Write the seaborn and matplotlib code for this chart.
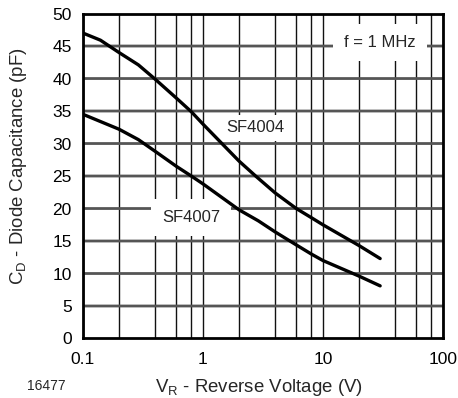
import numpy as np
import pandas as pd
import seaborn as sns
import matplotlib.pyplot as plt
from matplotlib.ticker import LogLocator, FixedLocator, NullFormatter

# Curve data
v_sf4004 = [0.1, 0.14, 0.2, 0.29, 0.4, 0.6, 0.8, 1, 1.44, 2, 2.75, 4, 6, 8, 10, 20, 30]
c_sf4004 = [47, 45.9, 44, 42.1, 39.9, 37.0, 34.9, 33.0, 30.0, 27.3, 25, 22.4, 20.0, 18.6, 17.5, 14.3, 12.3]
v_sf4007 = [0.1, 0.2, 0.29, 0.4, 0.6, 0.8, 1, 2, 2.9, 4, 6, 8, 10, 20, 30]
c_sf4007 = [34.5, 32.2, 30.6, 28.8, 26.5, 25.0, 23.8, 19.8, 18.1, 16.4, 14.4, 13.0, 12.0, 9.6, 8.1]

x_ticks = [0.1, 1, 10, 100]
x_tick_labels = ["0.1", "1", "10", "100"]
y_ticks = list(range(0, 55, 5))

df = pd.concat([
    pd.DataFrame({"V": v_sf4004, "C": c_sf4004, "device": "SF4004"}),
    pd.DataFrame({"V": v_sf4007, "C": c_sf4007, "device": "SF4007"}),
])

sns.set_style("white")
plt.rcParams["font.family"] = ["Liberation Sans", "DejaVu Sans"]

fig = plt.figure(figsize=(4.58, 3.98), dpi=100)
ax = fig.add_axes([0.181, 0.1495, 0.786, 0.8165])

sns.lineplot(data=df, x="V", y="C", hue="device", palette=["black", "black"],
             linewidth=2.4, legend=False, ax=ax, sort=True, zorder=3)
for ln in ax.lines:
    ln.set_solid_joinstyle("round")
    ln.set_solid_capstyle("round")

ax.set_xscale("log")
ax.set_xlim(0.1, 100)
ax.set_ylim(0, 50)
ax.xaxis.set_major_locator(FixedLocator(x_ticks))
ax.set_xticklabels(x_tick_labels)
ax.xaxis.set_minor_locator(LogLocator(base=10, subs=[2, 4, 6, 8]))
ax.xaxis.set_minor_formatter(NullFormatter())
ax.set_yticks(y_ticks)

# grid: black verticals on the log decades, grey horizontals on the y ticks
ax.xaxis.grid(True, which="both", color="#111111", linewidth=1.0, zorder=1)
ax.hlines(y_ticks[1:-1], 0.1, 100, colors="#555555", linewidths=2.0,
          zorder=1.5, snap=False)
ax.tick_params(axis="both", which="both", length=0, labelsize=12.5, colors="black")
ax.tick_params(axis="x", pad=10)
ax.tick_params(axis="y", pad=8)
for s in ax.spines.values():
    s.set_color("black")
    s.set_linewidth(2)
    s.set_zorder(5)

ax.set_xlabel("V$_\\mathregular{R}$ - Reverse Voltage (V)", fontsize=13.4)
ax.set_ylabel("C$_\\mathregular{D}$ - Diode Capacitance (pF)", fontsize=13.4)
ax.xaxis.set_label_coords(0.49, -0.118)
ax.yaxis.set_label_coords(-0.15, 0.531)

ax.text(2.75, 32.4, "SF4004", fontsize=12, ha="center", va="center", zorder=2,
        bbox=dict(facecolor="white", edgecolor="none", pad=4))
ax.text(0.795, 18.6, "SF4007", fontsize=12, ha="center", va="center", zorder=2,
        bbox=dict(facecolor="white", edgecolor="none", pad=8))
ax.text(29.7, 45.5, "f = 1 MHz", fontsize=12, ha="center", va="center", zorder=2,
        bbox=dict(facecolor="white", edgecolor="none", pad=8))

fig.text(46 / 458, 1 - 386 / 398, "16477", fontsize=10, ha="center", va="center")

fig.savefig("out.png", dpi=100)
